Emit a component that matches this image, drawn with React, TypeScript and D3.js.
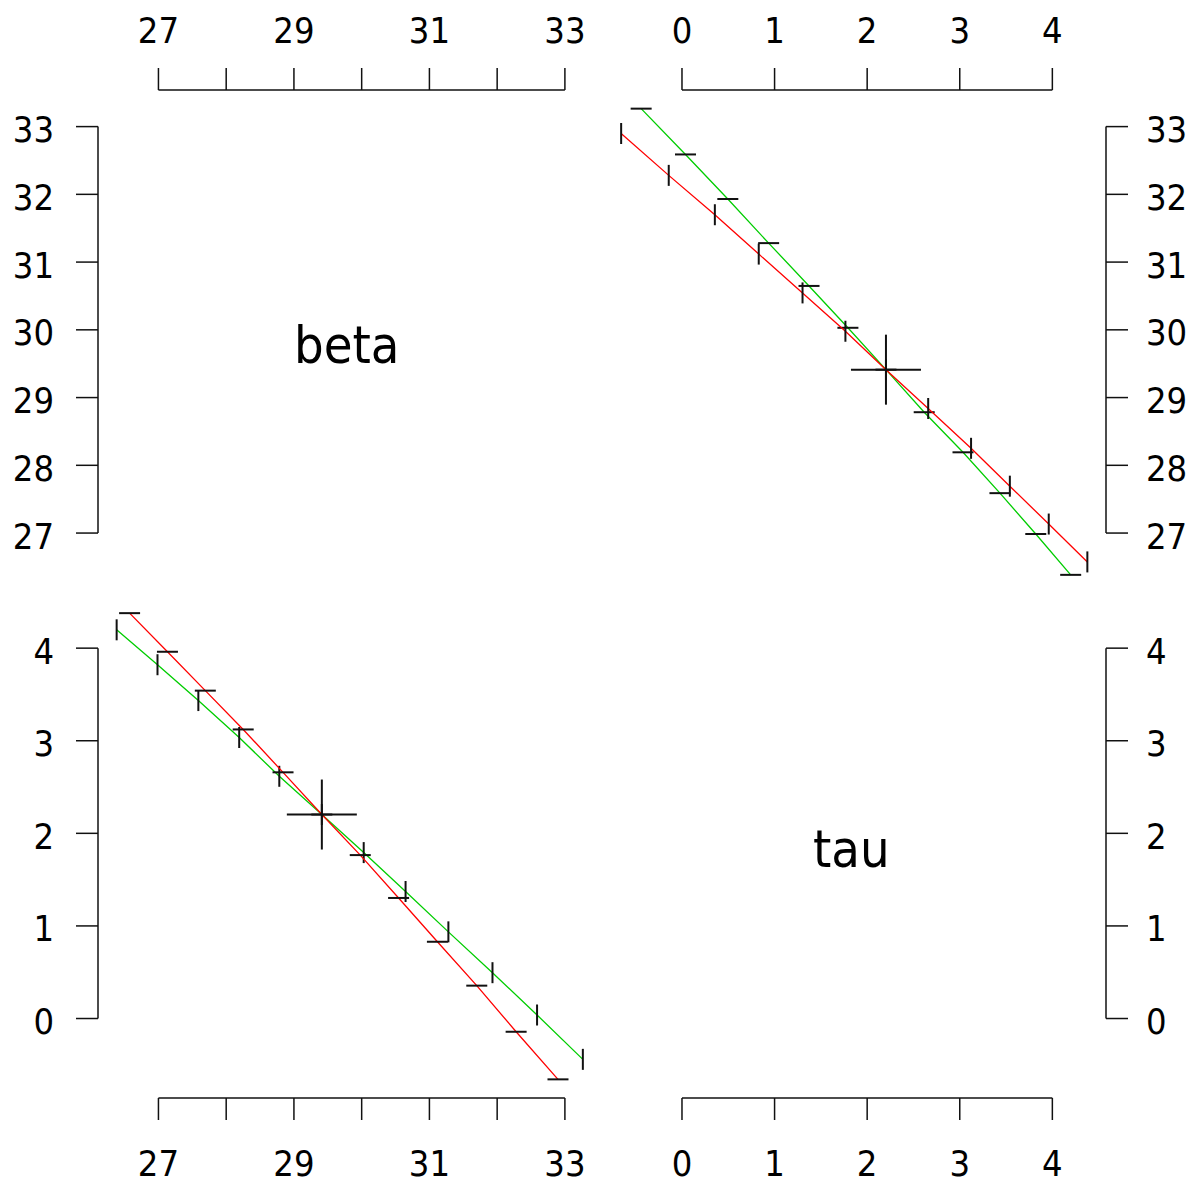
import React from 'react';
import * as d3 from 'd3';

// profile trace for beta (beta fixed on a grid, tau optimised) - green
const betaTraceBeta = [33.265, 32.589, 31.931, 31.28, 30.648, 30.03, 29.412, 28.784, 28.192, 27.589, 26.986, 26.383];
const betaTraceTau = [-0.441, 0.038, 0.495, 0.936, 1.372, 1.792, 2.203, 2.616, 3.035, 3.434, 3.821, 4.198];

// profile trace for tau (tau fixed on a grid, beta optimised) - red
const tauTraceTau = [-0.657, -0.143, 0.355, 0.829, 1.302, 1.765, 2.203, 2.659, 3.122, 3.541, 3.961, 4.378];
const tauTraceBeta = [32.898, 32.28, 31.699, 31.118, 30.545, 29.979, 29.412, 28.839, 28.251, 27.692, 27.133, 26.574];

// maximum likelihood estimate
const mleBeta = 29.412;
const mleTau = 2.203;

const paramNames = ['beta', 'tau'];
const betaTicks = [27, 28, 29, 30, 31, 32, 33];
const betaTickLabelsSparse = [27, 29, 31, 33];
const tauTicks = [0, 1, 2, 3, 4];

const W = 1194;
const H = 1184;
const LEFT = 98;
const TOP = 90;
const SIZE = 503.5;
const GAP = 1;
const TICK = 22;
const FONT = '"DejaVu Sans Condensed", "DejaVu Sans", sans-serif';
const RED = '#ff0000';
const GREEN = '#00cd00';

function padded(vals: number[]): [number, number] {
    const [lo, hi] = d3.extent(vals) as [number, number];
    const pad = (hi - lo) * 0.04;
    return [lo - pad, hi + pad];
}

const betaDomain = padded(betaTraceBeta.concat(tauTraceBeta));
const tauDomain = padded(betaTraceTau.concat(tauTraceTau));

const col0 = LEFT;
const col1 = LEFT + SIZE + GAP;
const row0 = TOP;
const row1 = TOP + SIZE + GAP;

// horizontal scales per column, vertical per row
const xBeta = d3.scaleLinear().domain(betaDomain).range([col0, col0 + SIZE]);
const xTau = d3.scaleLinear().domain(tauDomain).range([col1, col1 + SIZE]);
const yBeta = d3.scaleLinear().domain(betaDomain).range([row0 + SIZE, row0]);
const yTau = d3.scaleLinear().domain(tauDomain).range([row1 + SIZE, row1]);

const labelStyle: React.CSSProperties = { fontFamily: FONT, fontStretch: 'condensed', fontSize: 36, fill: '#000' };

function HAxis({ scale, ticks, labels, y, side }: any) {
    const dir = side === 'top' ? -1 : 1;
    const x0 = scale(ticks[0]);
    const x1 = scale(ticks[ticks.length - 1]);
    const labelY = side === 'top' ? y - 47 : y + 78;
    return (
        <g>
            <line x1={x0} x2={x1} y1={y} y2={y} stroke="#111" strokeWidth={1.5}/>
            {ticks.map((t: number) => (
                <line key={t} x1={scale(t)} x2={scale(t)} y1={y} y2={y + dir * TICK} stroke="#111" strokeWidth={1.5}/>
            ))}
            {labels.map((t: number) => (
                <text key={'l' + t} x={scale(t)} y={labelY} textAnchor="middle" style={labelStyle}>{t}</text>
            ))}
        </g>
    );
}

function VAxis({ scale, ticks, x, side }: any) {
    const dir = side === 'left' ? -1 : 1;
    const y0 = scale(ticks[0]);
    const y1 = scale(ticks[ticks.length - 1]);
    return (
        <g>
            <line x1={x} x2={x} y1={y0} y2={y1} stroke="#111" strokeWidth={1.5}/>
            {ticks.map((t: number) => (
                <g key={t}>
                    <line x1={x} x2={x + dir * TICK} y1={scale(t)} y2={scale(t)} stroke="#111" strokeWidth={1.5}/>
                    <text x={side === 'left' ? x - 44 : x + 40} y={scale(t) + 15.5}
                          textAnchor={side === 'left' ? 'end' : 'start'} style={labelStyle}>{t}</text>
                </g>
            ))}
        </g>
    );
}

// one trace drawn in a panel, with short marks perpendicular to the profiled axis
function Trace({ xs, ys, sx, sy, color, mark }: any) {
    const pts: [number, number][] = xs.map((v: number, i: number) => [sx(v), sy(ys[i])]);
    const line = d3.line();
    const h = 10.5;
    return (
        <g>
            <path d={line(pts) || ''} fill="none" stroke={color} strokeWidth={1.3}/>
            {pts.map(([px, py], i) => (
                mark === 'h'
                    ? <line key={i} x1={px - h} x2={px + h} y1={py} y2={py} stroke="#111" strokeWidth={2}/>
                    : <line key={i} x1={px} x2={px} y1={py - h} y2={py + h} stroke="#111" strokeWidth={2}/>
            ))}
        </g>
    );
}

function Cross({ x, y }: any) {
    const r = 35;
    return (
        <g stroke="#111" strokeWidth={2}>
            <line x1={x - r} x2={x + r} y1={y} y2={y}/>
            <line x1={x} x2={x} y1={y - r} y2={y + r}/>
        </g>
    );
}

export default function App() {
    const diagStyle: React.CSSProperties = { fontFamily: FONT, fontStretch: 'condensed', fontSize: 52, fill: '#000' };
    return (
        <svg width={W} height={H} style={{ position: 'absolute', left: 0, top: 0, background: '#fff' }}>
            <rect width={W} height={H} fill="#fff"/>

            {/* diagonal names */}
            <text x={col0 + SIZE / 2 - 3} y={row0 + SIZE / 2 + 21} textAnchor="middle" style={diagStyle}>{paramNames[0]}</text>
            <text x={col1 + SIZE / 2 - 3} y={row1 + SIZE / 2 + 21} textAnchor="middle" style={diagStyle}>{paramNames[1]}</text>

            {/* upper right: x = tau, y = beta */}
            <Trace xs={betaTraceTau} ys={betaTraceBeta} sx={xTau} sy={yBeta} color={GREEN} mark="h"/>
            <Trace xs={tauTraceTau} ys={tauTraceBeta} sx={xTau} sy={yBeta} color={RED} mark="v"/>
            <Cross x={xTau(mleTau)} y={yBeta(mleBeta)}/>

            {/* lower left: x = beta, y = tau */}
            <Trace xs={betaTraceBeta} ys={betaTraceTau} sx={xBeta} sy={yTau} color={GREEN} mark="v"/>
            <Trace xs={tauTraceBeta} ys={tauTraceTau} sx={xBeta} sy={yTau} color={RED} mark="h"/>
            <Cross x={xBeta(mleBeta)} y={yTau(mleTau)}/>

            {/* axes */}
            <HAxis scale={xBeta} ticks={betaTicks} labels={betaTickLabelsSparse} y={row0} side="top"/>
            <HAxis scale={xTau} ticks={tauTicks} labels={tauTicks} y={row0} side="top"/>
            <HAxis scale={xBeta} ticks={betaTicks} labels={betaTickLabelsSparse} y={row1 + SIZE} side="bottom"/>
            <HAxis scale={xTau} ticks={tauTicks} labels={tauTicks} y={row1 + SIZE} side="bottom"/>
            <VAxis scale={yBeta} ticks={betaTicks} x={col0} side="left"/>
            <VAxis scale={yTau} ticks={tauTicks} x={col0} side="left"/>
            <VAxis scale={yBeta} ticks={betaTicks} x={col1 + SIZE} side="right"/>
            <VAxis scale={yTau} ticks={tauTicks} x={col1 + SIZE} side="right"/>
        </svg>
    );
}
